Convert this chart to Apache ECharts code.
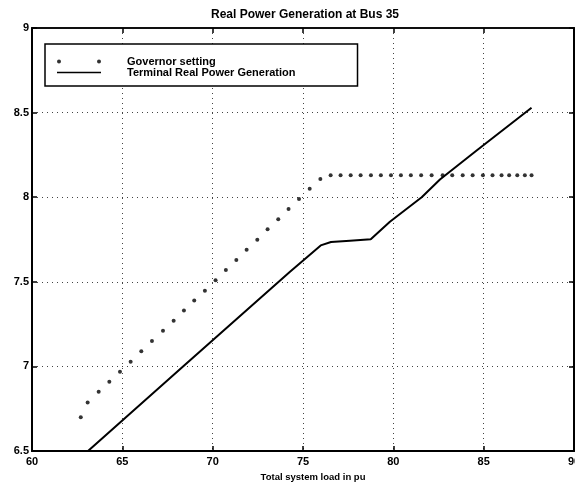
<!DOCTYPE html>
<html>
<head>
<meta charset="utf-8">
<script src="https://cdn.jsdelivr.net/npm/echarts@6/dist/echarts.min.js"></script>
<style>
html,body{margin:0;padding:0;background:#fff;}
#chart{width:575px;height:487px;}
</style>
</head>
<body>
<div id="chart"></div>
<script>
var titleText = 'Real Power Generation at Bus 35';
var xAxisName = 'Total system load in pu';
var seriesNames = ['Governor setting', 'Terminal Real Power Generation'];
var xTicks = [60, 65, 70, 75, 80, 85, 90];
var yTicks = [6.5, 7, 7.5, 8, 8.5, 9];

var govLoad = [62.7, 63.08, 63.69, 64.28, 64.87, 65.46, 66.05, 66.64, 67.25, 67.84, 68.41, 68.98,
  69.57, 70.16, 70.73, 71.31, 71.88, 72.47, 73.04, 73.63, 74.2, 74.78, 75.37, 75.96,
  76.53, 77.08, 77.64, 78.19, 78.76, 79.31, 79.87, 80.42, 80.97, 81.54, 82.12, 82.73,
  83.26, 83.84, 84.39, 84.96, 85.49, 85.99, 86.41, 86.86, 87.28, 87.65];
var govSetting = [6.70, 6.786, 6.85, 6.91, 6.969, 7.028, 7.089, 7.15, 7.21, 7.27, 7.33, 7.39,
  7.447, 7.509, 7.57, 7.629, 7.69, 7.749, 7.81, 7.869, 7.93, 7.99, 8.05, 8.108,
  8.13, 8.13, 8.13, 8.13, 8.13, 8.13, 8.13, 8.13, 8.13, 8.13, 8.13, 8.13,
  8.13, 8.13, 8.13, 8.13, 8.13, 8.13, 8.13, 8.13, 8.13, 8.13];

var termLoad = [63.1, 68.36, 74.28, 75.98, 76.55, 77.6, 78.75, 79.81, 81.57, 82.58, 84.61, 87.65];
var termGen = [6.5, 7.0, 7.56, 7.715, 7.735, 7.743, 7.751, 7.855, 8.0, 8.105, 8.276, 8.529];

function pairs(xs, ys) { return xs.map(function (x, i) { return [x, ys[i]]; }); }

var chart = echarts.init(document.getElementById('chart'), null, {renderer: 'canvas'});
var FONT = 'Liberation Sans, Arial, sans-serif';

var axisCommon = {
  type: 'value',
  axisLine: {show: true, onZero: false, lineStyle: {color: '#000', width: 2}},
  axisTick: {show: true, inside: true, length: 5, lineStyle: {color: '#000', width: 1.5}},
  splitLine: {show: false}
};

chart.setOption({
  animation: false,
  backgroundColor: '#fff',
  title: {
    text: titleText,
    left: 305, top: 9, padding: 0, textAlign: 'center',
    textStyle: {fontFamily: FONT, fontSize: 12, fontWeight: 'bold', color: '#000'}
  },
  grid: {left: 32, right: 1, top: 28, bottom: 36, outerBoundsMode: 'none', containLabel: false,
    show: true, borderColor: '#000', borderWidth: 1.5, backgroundColor: 'transparent'},
  legend: {
    orient: 'vertical',
    left: 45, top: 44,
    padding: [12, 62, 8, 12],
    itemGap: 0,
    itemWidth: 44, itemHeight: 4,
    borderColor: '#000', borderWidth: 1.5,
    backgroundColor: '#fff',
    textStyle: {fontFamily: FONT, fontSize: 11, fontWeight: 'bold', color: '#000', lineHeight: 11, padding: [0, 0, 0, 21]},
    data: [
      {name: seriesNames[0], icon: 'path://M0,2a2,2 0 1,0 4,0a2,2 0 1,0 -4,0 M40,2a2,2 0 1,0 4,0a2,2 0 1,0 -4,0', itemStyle: {color: '#000'}},
      {name: seriesNames[1], icon: 'path://M0,1.2 L44,1.2 L44,2.8 L0,2.8 Z', itemStyle: {color: '#000'}}
    ]
  },
  xAxis: [
    Object.assign({}, axisCommon, {
      min: xTicks[0], max: xTicks[xTicks.length - 1], interval: 5, position: 'bottom',
      name: xAxisName, nameLocation: 'middle', nameGap: 17,
      nameTextStyle: {fontFamily: FONT, fontSize: 9.5, fontWeight: 'bold', color: '#000', padding: [0, 0, 0, 20]},
      axisLabel: {show: true, margin: 5, fontFamily: FONT, fontSize: 11, fontWeight: 'bold', color: '#000'},
      splitLine: {show: true, lineStyle: {color: '#444', width: 1, type: [1, 4]}}
    }),
    Object.assign({}, axisCommon, {
      min: xTicks[0], max: xTicks[xTicks.length - 1], interval: 5, position: 'top',
      axisLabel: {show: false},
      axisLine: {show: true, onZero: false, lineStyle: {color: '#000', width: 1.5}}
    })
  ],
  yAxis: [
    Object.assign({}, axisCommon, {
      min: yTicks[0], max: yTicks[yTicks.length - 1], interval: 0.5, position: 'left',
      axisLabel: {show: true, margin: 3, fontFamily: FONT, fontSize: 11, fontWeight: 'bold', color: '#000'},
      splitLine: {show: true, lineStyle: {color: '#444', width: 1, type: [1, 4]}}
    }),
    Object.assign({}, axisCommon, {
      min: yTicks[0], max: yTicks[yTicks.length - 1], interval: 0.5, position: 'right',
      axisLabel: {show: false}
    })
  ],
  series: [
    {
      name: seriesNames[0], type: 'scatter', xAxisIndex: 0, yAxisIndex: 0,
      symbol: 'circle', symbolSize: 4,
      itemStyle: {color: '#000'},
      data: pairs(govLoad, govSetting)
    },
    {
      name: seriesNames[1], type: 'line', xAxisIndex: 0, yAxisIndex: 0,
      symbol: 'none', smooth: false, clip: true,
      lineStyle: {color: '#000', width: 2},
      data: pairs(termLoad, termGen)
    }
  ]
});
</script>
</body>
</html>
